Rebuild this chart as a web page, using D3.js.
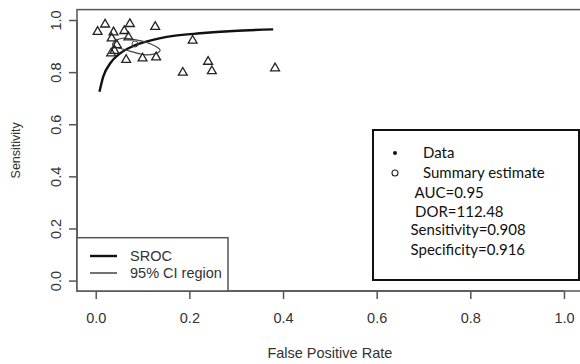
<!DOCTYPE html>
<html>
<head>
<meta charset="utf-8">
<script src="https://cdn.jsdelivr.net/npm/d3@7"></script>
<style>
  body { margin: 0; background: #fff; }
  svg { display: block; }
</style>
</head>
<body>
<div id="container"></div>
<script>
// study points (false positive rate, sensitivity)
const studyFpr = [0.004, 0.020, 0.038, 0.034, 0.073, 0.061, 0.070, 0.127, 0.033, 0.040,
                  0.045, 0.065, 0.100, 0.129, 0.207, 0.186, 0.240, 0.248, 0.383];
const studySens = [0.955, 0.983, 0.953, 0.930, 0.985, 0.958, 0.934, 0.974, 0.872, 0.882,
                   0.904, 0.847, 0.853, 0.857, 0.921, 0.798, 0.840, 0.804, 0.815];

// SROC curve
const srocFpr = [0.008, 0.016, 0.031, 0.052, 0.080, 0.116, 0.166, 0.223, 0.294, 0.379];
const srocSens = [0.725, 0.783, 0.834, 0.872, 0.900, 0.921, 0.939, 0.949, 0.958, 0.964];

// 95% confidence region outline
const ciFpr = [0.036, 0.043, 0.058, 0.077, 0.099, 0.120, 0.135, 0.137, 0.126, 0.107, 0.086, 0.065, 0.045];
const ciSens = [0.904, 0.921, 0.930, 0.927, 0.919, 0.906, 0.891, 0.881, 0.870, 0.866, 0.874, 0.885, 0.895];

const summaryFpr = 0.084, summarySens = 0.908;

const ticks = [0, 0.2, 0.4, 0.6, 0.8, 1.0];
const statLines = ["AUC=0.95", "DOR=112.48", "Sensitivity=0.908", "Specificity=0.916"];

const width = 580, height = 364;
const svg = d3.select("#container").append("svg")
    .attr("width", width)
    .attr("height", height);

const x = d3.scaleLinear().domain([-0.04, 1.04]).range([77, 582.7]);
const y = d3.scaleLinear().domain([-0.04, 1.04]).range([291, 9.6]);

const axisColor = "#555";
const fmt = d3.format(".1f");

// plot box
svg.append("rect")
    .attr("x", x(-0.04)).attr("y", y(1.04))
    .attr("width", x(1.04) - x(-0.04)).attr("height", y(-0.04) - y(1.04))
    .attr("fill", "none").attr("stroke", axisColor).attr("stroke-width", 1.5);

// x axis
const xAxis = svg.append("g")
    .attr("transform", `translate(0,${y(-0.04)})`)
    .call(d3.axisBottom(x).tickValues(ticks).tickFormat(fmt).tickSize(8).tickPadding(14));
xAxis.select(".domain").attr("d", `M${x(0)},0H${x(1)}`).attr("stroke", axisColor).attr("stroke-width", 1.5);
xAxis.selectAll(".tick line").attr("stroke", axisColor).attr("stroke-width", 1.5);
xAxis.selectAll(".tick text")
    .attr("font-family", "Liberation Sans, Arial, sans-serif")
    .attr("font-size", 14.5).attr("fill", "#333");

// y axis
const yAxis = svg.append("g")
    .attr("transform", `translate(${x(-0.04)},0)`)
    .call(d3.axisLeft(y).tickValues(ticks).tickFormat(fmt).tickSize(8));
yAxis.select(".domain").attr("d", `M0,${y(0)}V${y(1)}`).attr("stroke", axisColor).attr("stroke-width", 1.5);
yAxis.selectAll(".tick line").attr("stroke", axisColor).attr("stroke-width", 1.5);
yAxis.selectAll(".tick text")
    .attr("x", null).attr("dy", null)
    .attr("transform", "translate(-21,0) rotate(-90)")
    .attr("text-anchor", "middle")
    .attr("dominant-baseline", "central")
    .attr("font-family", "Liberation Sans, Arial, sans-serif")
    .attr("font-size", 14.5).attr("fill", "#333");

// axis titles
svg.append("text")
    .attr("x", (x(-0.04) + x(1.04)) / 2).attr("y", 358)
    .attr("text-anchor", "middle")
    .attr("font-family", "Liberation Sans, Arial, sans-serif")
    .attr("font-size", 14.5).attr("fill", "#333")
    .text("False Positive Rate");

svg.append("text")
    .attr("transform", `translate(20,${(y(-0.04) + y(1.04)) / 2}) rotate(-90)`)
    .attr("text-anchor", "middle")
    .attr("font-family", "Liberation Sans, Arial, sans-serif")
    .attr("font-size", 12.5).attr("fill", "#333")
    .text("Sensitivity");

// SROC curve
const srocData = srocFpr.map((f, i) => [f, srocSens[i]]);
svg.append("path")
    .datum(srocData)
    .attr("d", d3.line().x(d => x(d[0])).y(d => y(d[1])).curve(d3.curveMonotoneX))
    .attr("fill", "none").attr("stroke", "#111").attr("stroke-width", 2.4);

// confidence region
const ciData = ciFpr.map((f, i) => [f, ciSens[i]]);
svg.append("path")
    .datum(ciData)
    .attr("d", d3.line().x(d => x(d[0])).y(d => y(d[1])).curve(d3.curveCardinalClosed))
    .attr("fill", "none").attr("stroke", "#444").attr("stroke-width", 1.2);

// study triangles
const studies = studyFpr.map((f, i) => ({ fpr: f, sens: studySens[i] }));
svg.append("g")
    .selectAll("path")
    .data(studies)
  .enter().append("path")
    .attr("transform", d => `translate(${x(d.fpr)},${y(d.sens)})`)
    .attr("d", d3.symbol(d3.symbolTriangle, 34))
    .attr("fill", "none").attr("stroke", "#222").attr("stroke-width", 1.3);

// summary estimate
svg.append("circle")
    .attr("cx", x(summaryFpr)).attr("cy", y(summarySens)).attr("r", 3)
    .attr("fill", "none").attr("stroke", "#444").attr("stroke-width", 1);

// left legend
const leg = svg.append("g");
leg.append("rect")
    .attr("x", x(-0.04)).attr("y", 237.7)
    .attr("width", 151).attr("height", y(-0.04) - 237.7)
    .attr("fill", "#fff").attr("stroke", axisColor).attr("stroke-width", 1.5);
[["SROC", 2.4, "#111", 256], ["95% CI region", 1.5, "#444", 273]].forEach(([label, sw, col, ly]) => {
    leg.append("line")
        .attr("x1", 90).attr("x2", 117).attr("y1", ly).attr("y2", ly)
        .attr("stroke", col).attr("stroke-width", sw);
    leg.append("text")
        .attr("x", 130).attr("y", ly + 5)
        .attr("font-family", "Liberation Sans, Arial, sans-serif")
        .attr("font-size", 14.5).attr("fill", "#333")
        .text(label);
});

// right statistics legend
const stat = svg.append("g");
stat.append("rect")
    .attr("x", 373).attr("y", 130).attr("width", 206).attr("height", 150)
    .attr("fill", "#fff").attr("stroke", "#111").attr("stroke-width", 2);
stat.append("circle").attr("cx", 395).attr("cy", 153).attr("r", 2).attr("fill", "#111");
stat.append("circle").attr("cx", 395).attr("cy", 173).attr("r", 3)
    .attr("fill", "none").attr("stroke", "#222").attr("stroke-width", 1.1);
const statFont = "Lato, 'Open Sans', sans-serif";
stat.append("text").attr("x", 423).attr("y", 158).text("Data");
stat.append("text").attr("x", 423).attr("y", 178).text("Summary estimate");
const statX = [414.5, 415, 410.5, 410.5];
const statY = [198, 216.5, 235, 254.5];
statLines.forEach((t, i) => {
    stat.append("text").attr("x", statX[i]).attr("y", statY[i]).text(t);
});
stat.selectAll("text")
    .attr("font-family", statFont).attr("font-size", 15).attr("fill", "#111");
</script>
</body>
</html>
